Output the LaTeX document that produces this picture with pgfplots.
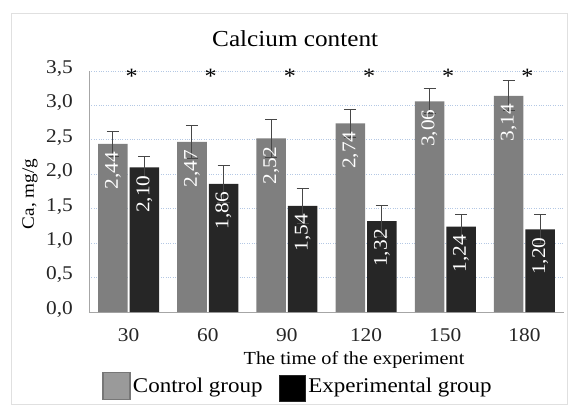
\documentclass[border=0pt]{standalone}
\usepackage{pgfplots}
\pgfplotsset{compat=1.18}
\usepackage{pgfplotstable}
\usepackage{fontspec}
\setmainfont[FakeStretch=1.1]{Liberation Serif}

\definecolor{ctlbar}{HTML}{7F7F7F}
\definecolor{ctlleg}{HTML}{9A9A9A}
\definecolor{ctledge}{HTML}{777777}
\definecolor{expbar}{HTML}{262626}
\definecolor{errcol}{HTML}{474747}
\definecolor{gridblue}{HTML}{B4C8E4}
\definecolor{axiscol}{HTML}{A6A6A6}

% time (index), control mean, control sd, experimental mean, experimental sd
\pgfplotstableread{
x ctl cerr exp eerr
0 2.44 0.18 2.10 0.16
1 2.47 0.24 1.86 0.27
2 2.52 0.27 1.54 0.26
3 2.74 0.20 1.32 0.22
4 3.06 0.18 1.24 0.18
5 3.14 0.22 1.20 0.21
}\calcium

\pgfplotstableread{
x y
0 3.42
1 3.42
2 3.42
3 3.42
4 3.42
5 3.42
}\stars

\begin{document}
\begin{tikzpicture}
\path[use as bounding box] (-89bp,-94bp) rectangle (482bp,312bp);
\draw[black!12, line width=0.7bp] (-78bp,-92bp) rectangle (478bp,299bp);
\begin{axis}[
  at={(0,0)}, anchor=south west,
  scale only axis,
  width=475bp, height=241bp,
  ybar=2bp, bar width=29.5bp,
  xmin=-0.5, xmax=5.5,
  ymin=0, ymax=3.5,
  ytick={0,0.5,...,3.5},
  xtick=data,
  xticklabels={30,60,90,120,150,180},
  major tick length=0pt,
  axis x line*=bottom, axis y line*=left,
  axis line style={axiscol, line width=0.8bp, -},
  ymajorgrids,
  grid style={gridblue, dotted, line width=1bp},
  clip=false,
  /pgf/number format/assume math mode=true,
  yticklabel={\pgfmathprintnumber[fixed,fixed zerofill,precision=1,use comma]{\tick}},
  tick label style={font=\fontsize{19.5}{21}\selectfont, black!85},
  xticklabel style={anchor=base, yshift=-29bp},
  yticklabel style={anchor=mid east, inner sep=0pt, xshift=-16bp},
  title={Calcium content},
  title style={at={(axis description cs:0.434,1.075)}, anchor=base, font=\fontsize{23}{25}\selectfont},
  xlabel={The time of the experiment},
  xlabel style={at={(axis description cs:0.558,-0.216)}, anchor=base, font=\fontsize{18.5}{21}\selectfont},
  ylabel={Ca, mg/g},
  ylabel style={at={(axis description cs:-0.124,0.49)}, anchor=center, font=\fontsize{17.5}{20}\selectfont},
  legend columns=2,
  legend style={draw=none, fill=none, inner sep=0pt,
    at={(axis description cs:0.44,-0.311)}, anchor=center,
    font=\fontsize{21}{23}\selectfont,
    /tikz/every even column/.append style={column sep=14bp}},
  nodes near coords={\pgfmathprintnumber[fixed,fixed zerofill,precision=2,use comma]{\pgfplotspointmeta}},
  every node near coord/.append style={rotate=90, anchor=east, white,
    inner xsep=8bp, font=\fontsize{19.5}{21}\selectfont},
]
\addplot[fill=ctlbar, draw=none,
  legend image code/.code={\draw[fill=ctlleg, draw=ctledge, line width=1.6bp]
    (0bp,-13bp) rectangle (27bp,14bp);},
  error bars/.cd, y dir=both, y explicit,
  error bar style={errcol, line width=1bp},
  error mark options={rotate=90, mark size=6bp, line width=1bp, errcol}]
  table[x=x, y=ctl, y error=cerr] {\calcium};
\addlegendentry{Control group}
\addplot[fill=expbar, draw=none,
  legend image code/.code={\draw[fill=black, draw=black!85, line width=1.6bp]
    (0bp,-15bp) rectangle (26bp,11bp);},
  error bars/.cd, y dir=both, y explicit,
  error bar style={errcol, line width=1bp},
  error mark options={rotate=90, mark size=6bp, line width=1bp, errcol}]
  table[x=x, y=exp, y error=eerr] {\calcium};
\addlegendentry{Experimental group}
% significance markers above each pair
\addplot[sharp plot, draw=none, mark=none, forget plot,
  nodes near coords={*},
  every node near coord/.style={anchor=center, black, xshift=3bp,
    font=\fontsize{22}{24}\selectfont}]
  table[x=x, y=y] {\stars};
\end{axis}
\end{tikzpicture}
\end{document}
